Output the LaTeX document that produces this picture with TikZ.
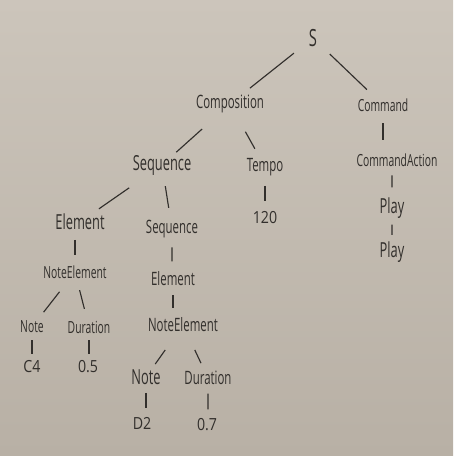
\documentclass[tikz,border=0pt]{standalone}
\usepackage{fontspec}
\setmainfont{Open Sans}[FakeStretch=0.62]
\newfontfamily\numfont{Open Sans}[FakeStretch=0.85]
\usepackage{tikz}
\usepackage{xcolor}
\definecolor{paper}{RGB}{204,197,187}
\definecolor{paperdark}{RGB}{184,176,165}
\definecolor{ink}{RGB}{50,47,44}
\usetikzlibrary{positioning, calc}
\tikzstyle{Label} = [
text=ink,
inner sep=1pt,
font=\fontsize{10.5}{12}\selectfont]
\tikzstyle{LabelSmall} = [
Label,
font=\fontsize{9.5}{11}\selectfont]
\tikzstyle{LabelLarge} = [
Label,
font=\fontsize{11.8}{14}\selectfont]
\tikzstyle{LabelBig} = [
Label,
font=\fontsize{13.5}{16}\selectfont]
\tikzstyle{Number} = [
Label,
font=\numfont\fontsize{9.5}{11}\selectfont]
\tikzstyle{Branch} = [
ink,
line width=0.65pt]

\begin{document}
\begin{tikzpicture}[x=0.02cm, y=-0.02cm]
    \shade[top color=paper, bottom color=paperdark] (0,0) rectangle (453,456);
    \useasboundingbox (0,0) rectangle (453,456);

    \node [LabelBig] (1) at (313,38) {S};
    \node [Label] (2) at (230,104) {Composition};
    \node [LabelSmall] (3) at (383,105) {Command};
    \node [LabelLarge] (4) at (162,165) {Sequence};
    \node [Label] (5) at (265,167) {Tempo};
    \node [LabelSmall] (6) at (397,160) {CommandAction};
    \node [Number] (7) at (265,218) {120};
    \node [LabelLarge] (8) at (392,208) {Play};
    \node [LabelLarge] (9) at (392,252) {Play};
    \node [LabelLarge] (10) at (80,222) {Element};
    \node [Label] (11) at (172,229) {Sequence};
    \node [LabelSmall] (12) at (75,272) {NoteElement};
    \node [Label] (13) at (173,279) {Element};
    \node [Label] (14) at (183,325) {NoteElement};
    \node [LabelSmall] (15) at (32,327) {Note};
    \node [LabelSmall] (16) at (89,327) {Duration};
    \node [LabelLarge] (17) at (146,377) {Note};
    \node [Label] (18) at (208,378) {Duration};
    \node [Number] (19) at (32,367) {C4};
    \node [Number] (20) at (88,367) {0.5};
    \node [Number] (21) at (142,423) {D2};
    \node [Number] (22) at (207,425) {0.7};

    % slanted branches
    \draw[Branch] ($(1)!0.23!(2)$) -- ($(1)!0.76!(2)$);
    \draw[Branch] ($(1)!0.24!(3)$) -- ($(1)!0.77!(3)$);
    \draw[Branch] ($(2)!0.41!(4)$) -- ($(2)!0.79!(4)$);
    \draw[Branch] ($(2)!0.44!(5)$) -- ($(2)!0.71!(5)$);
    \draw[Branch] ($(4)!0.40!(10)$) -- ($(4)!0.77!(10)$);
    \draw[Branch] ($(4)!0.33!(11)$) -- ($(4)!0.67!(11)$);
    \draw[Branch] ($(12)!0.36!(15)$) -- ($(12)!0.73!(15)$);
    \draw[Branch] ($(12)!0.33!(16)$) -- ($(12)!0.67!(16)$);
    \draw[Branch] ($(14)!0.48!(17)$) -- ($(14)!0.75!(17)$);
    \draw[Branch] ($(14)!0.47!(18)$) -- ($(14)!0.72!(18)$);

    % straight stems
    \draw[Branch] ($(3.south)!0.25!(3.south |- 6.north)$) -- ($(3.south)!0.7!(3.south |- 6.north)$);
    \draw[Branch] ($(5.south)!0.25!(7.north)$) -- ($(5.south)!0.72!(7.north)$);
    \draw[Branch] ($(8.north |- 6.south)!0.25!(8.north)$) -- ($(8.north |- 6.south)!0.7!(8.north)$);
    \draw[Branch] ($(8.south)!0.22!(9.north)$) -- ($(8.south)!0.75!(9.north)$);
    \draw[Branch] ($(12.north |- 10.south)!0.25!(12.north)$) -- ($(12.north |- 10.south)!0.72!(12.north)$);
    \draw[Branch] ($(11.south)!0.25!(11.south |- 13.north)$) -- ($(11.south)!0.72!(11.south |- 13.north)$);
    \draw[Branch] ($(13.south)!0.25!(13.south |- 14.north)$) -- ($(13.south)!0.72!(13.south |- 14.north)$);
    \draw[Branch] ($(15.south)!0.22!(15.south |- 19.north)$) -- ($(15.south)!0.78!(15.south |- 19.north)$);
    \draw[Branch] ($(16.south)!0.22!(16.south |- 20.north)$) -- ($(16.south)!0.78!(16.south |- 20.north)$);
    \draw[Branch] ($(17.south)!0.22!(17.south |- 21.north)$) -- ($(17.south)!0.75!(17.south |- 21.north)$);
    \draw[Branch] ($(18.south)!0.22!(18.south |- 22.north)$) -- ($(18.south)!0.75!(18.south |- 22.north)$);
\end{tikzpicture}
\end{document}
